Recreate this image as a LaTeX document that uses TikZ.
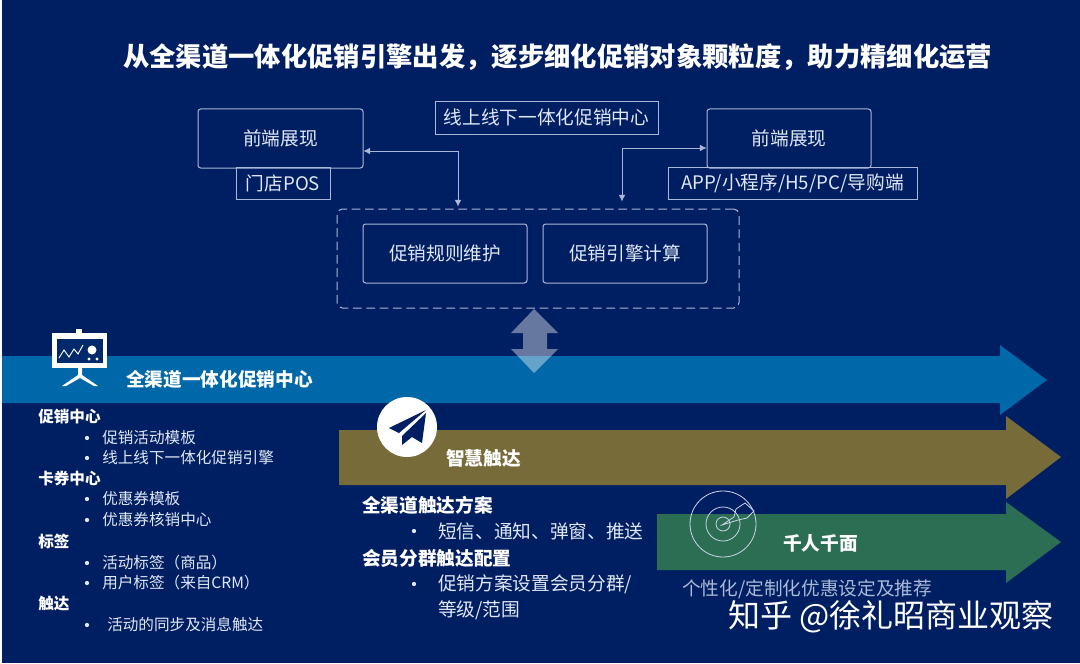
\documentclass[tikz,border=0pt]{standalone}
\usepackage{fontspec}
\setmainfont{Noto Sans CJK SC}
\usetikzlibrary{calc}
\usetikzlibrary{arrows.meta}
\definecolor{bgColor}{RGB}{0,30,98}
\definecolor{blueBar}{RGB}{0,103,168}
\definecolor{oliveBar}{RGB}{120,107,58}
\definecolor{greenBar}{RGB}{44,110,84}
\definecolor{lineColor}{RGB}{170,185,215}
\definecolor{textColor}{RGB}{225,232,245}
\tikzset{
  frame/.style={draw=lineColor, line width=0.75pt, rounded corners=2pt, text=textColor, font=\fontsize{14}{14}\selectfont, inner sep=0pt},
  tag/.style={draw=lineColor, line width=0.65pt, text=textColor, font=\fontsize{14}{14}\selectfont, inner sep=0pt},
  listhead/.style={anchor=west, inner sep=0pt, text=white, font=\fontsize{11.7}{12}\selectfont\bfseries},
  listitem/.style={anchor=west, inner sep=0pt, text=textColor, font=\fontsize{11.7}{12}\selectfont},
  bighead/.style={anchor=west, inner sep=0pt, text=white, font=\fontsize{14}{14}\selectfont\bfseries},
  bigitem/.style={anchor=west, inner sep=0pt, text=textColor, font=\fontsize{14}{14}\selectfont},
  barlabel/.style={anchor=west, inner sep=0pt, text=white, font=\fontsize{14}{14}\selectfont\bfseries},
  dot/.style={circle, fill=textColor, minimum size=3.2pt, inner sep=0pt},
  link/.style={draw=lineColor, line width=0.5pt},
  tip/.style={{Latex[length=5pt,width=5pt]}-{Latex[length=5pt,width=5pt]}},
}
\begin{document}
\begin{tikzpicture}[x=0.75pt,y=-0.75pt]
\useasboundingbox (0,0) rectangle (1080,663);
\fill [white] (0,0) rectangle (1080,663);
\fill [bgColor] (2,0) rectangle (1080,663);

% big arrows
\fill [blueBar] (2,356) -- (1000,356) -- (1000,345) -- (1047,380) -- (1000,415) -- (1000,403) -- (2,403) -- cycle;
\fill [oliveBar] (339,430) -- (1006,430) -- (1006,416) -- (1061,457) -- (1006,499) -- (1006,485) -- (339,485) -- cycle;
\fill [greenBar] (657,514) -- (1006,514) -- (1006,502) -- (1061,542) -- (1006,583) -- (1006,570) -- (657,570) -- cycle;

% double arrow
\fill [white, opacity=0.4] (534,309) -- (558,333) -- (547,333) -- (547,349) -- (558,349) -- (534,373) -- (511,349) -- (523,349) -- (523,333) -- (511,333) -- cycle;

% title
\node [inner sep=0pt, text=white, font=\fontsize{19.75}{20}\selectfont\bfseries] (title) at (557.5,57) {从全渠道一体化促销引擎出发，逐步细化促销对象颗粒度，助力精细化运营};

% upper boxes
\node [frame, minimum width=123.75pt, minimum height=44.25pt] (frontL) at (280.5,138.5) {前端展现};
\node [frame, minimum width=123pt, minimum height=44.25pt] (frontR) at (789,138.5) {前端展现};
\node [tag, minimum width=70.5pt, minimum height=24pt] (posTag) at (283,183) {门店POS};
\node [tag, minimum width=186.75pt, minimum height=24pt] (appTag) at (792.5,183) {APP/小程序/H5/PC/导购端};
\node [tag, minimum width=167.25pt, minimum height=24.75pt] (centerTag) at (546.5,117.5) {线上线下一体化促销中心};
\node [frame, dash pattern=on 6.5pt off 3.5pt, rounded corners=4pt, minimum width=301.5pt, minimum height=74.25pt] (engineBox) at (538,258.5) {};
\node [frame, minimum width=123pt, minimum height=44.25pt] (ruleBox) at (445,253.5) {促销规则维护};
\node [frame, minimum width=123pt, minimum height=44.25pt] (calcBox) at (625,253.5) {促销引擎计算};

\draw [link, tip] ($(frontL.east)+(0,12.5)$) -| ($(engineBox.north)+(-80,-2)$);
\draw [link, tip] ($(frontR.west)+(0,9.5)$) -| ($(engineBox.north)+(84,-7)$);

% board icon
\fill [white] (76,329) rectangle (82,333);
\fill [white] (52,333) rectangle (107,368);
\fill [bgColor!85!blueBar] (57,339) rectangle (103,363);
\draw [white, line width=0.7pt] (59,358) -- (64,350) -- (69,357) -- (74,349) -- (78,354) -- (83,345);
\fill [white] (92,350) circle (4.5);
\fill [white] (89,359) circle (1.7) (97,359) circle (1.7);
\fill [white] (78,368) -- (82,368) -- (82,375) -- (98,386) -- (94,386) -- (80,378) -- (66,386) -- (62,386) -- (78,375) -- cycle;

% plane icon
\fill [white] (407,427) circle (30);
\fill [bgColor] (389,428) -- (426,410) -- (399,433) -- cycle;
\fill [bgColor] (402,445) -- (402,436) -- (426,413) -- (422,443) -- (412,437) -- cycle;

% target icon
\draw [lineColor!60!white, line width=0.6pt] (723,524) circle (33) (723,524) circle (17) (723,524) circle (7);
\draw [lineColor!60!white, line width=0.6pt] (722,525) -- (734,517) -- (736,509) -- (745,503) -- (754,511) -- (747,518) -- (738,520) -- cycle;

% bar labels
\node [barlabel] (mainLabel) at (126,379) {全渠道一体化促销中心};
\node [barlabel] (reachLabel) at (446,458) {智慧触达};
\node [barlabel] (faceLabel) at (783,543) {千人千面};

% left list
\node [listhead] (promo) at (38,417) {促销中心};
\node [listitem] (promoA) at (102,438) {促销活动模板};
\node [listitem] (promoB) at (102,458) {线上线下一体化促销引擎};
\node [listhead] (coupon) at (38,479) {卡券中心};
\node [listitem] (couponA) at (102,499) {优惠券模板};
\node [listitem] (couponB) at (102,520) {优惠券核销中心};
\node [listhead] (label) at (38,541) {标签};
\node [listitem] (labelA) at (102,563) {活动标签（商品）};
\node [listitem] (labelB) at (102,583) {用户标签（来自CRM）};
\node [listhead] (touch) at (38,604) {触达};
\node [listitem] (touchA) at (107,625) {活动的同步及消息触达};
\foreach \y in {438,458,499,520,563,583,625}
  \node [dot] at (87,\y) {};

% middle list
\node [bighead] (planHead) at (362,505) {全渠道触达方案};
\node [bigitem] (planA) at (438,531) {短信、通知、弹窗、推送};
\node [bighead] (groupHead) at (362,558) {会员分群触达配置};
\node [bigitem] (groupA) at (438,584) {促销方案设置会员分群/};
\node [bigitem] (groupB) at (438,610) {等级/范围};
\foreach \y in {531,584}
  \node [dot] at (414,\y) {};

\node [bigitem, text=lineColor] (personal) at (682,589) {个性化/定制化优惠设定及推荐};
\node [anchor=west, inner sep=0pt, text=white, font=\fontsize{24}{24}\selectfont] (mark) at (728,617) {知乎 @徐礼昭商业观察};
\end{tikzpicture}
\end{document}
